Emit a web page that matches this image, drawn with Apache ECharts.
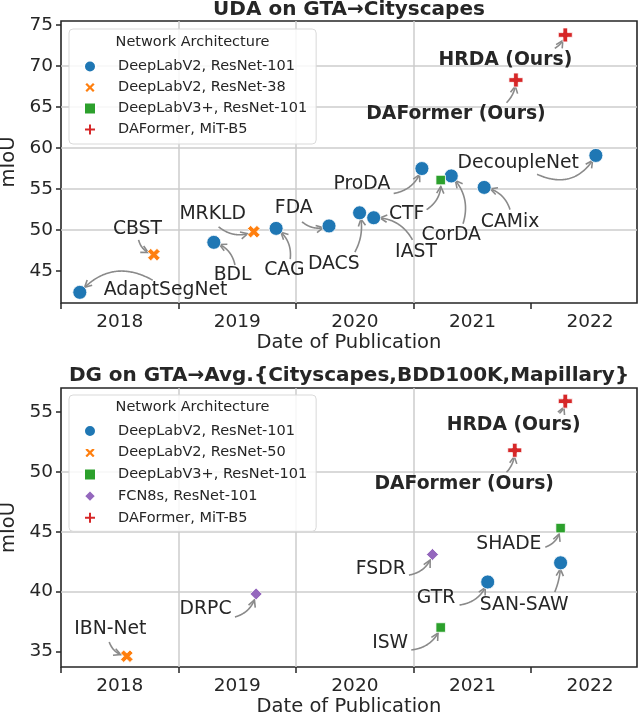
<!DOCTYPE html>
<html>
<head>
<meta charset="utf-8">
<script src="https://cdn.jsdelivr.net/npm/echarts@6/dist/echarts.min.js"></script>
<style>
  html, body { margin: 0; padding: 0; background: #fff; }
  #chart { width: 640px; height: 718px; }
</style>
</head>
<body>
<div id="chart"></div>
<script>
// ---- architectures, in legend order ----
const udaArchs = ['DeepLabV2, ResNet-101', 'DeepLabV2, ResNet-38', 'DeepLabV3+, ResNet-101', 'DAFormer, MiT-B5'];
const dgArchs = ['DeepLabV2, ResNet-101', 'DeepLabV2, ResNet-50', 'DeepLabV3+, ResNet-101', 'FCN8s, ResNet-101', 'DAFormer, MiT-B5'];

// ---- UDA on GTA->Cityscapes ----
const udaNames = ['AdaptSegNet', 'CBST', 'BDL', 'MRKLD', 'CAG', 'FDA', 'DACS', 'IAST', 'CTF', 'ProDA', 'CorDA', 'CAMix', 'DecoupleNet', 'DAFormer (Ours)', 'HRDA (Ours)'];
const udaArchIdx = [0, 1, 0, 1, 0, 0, 0, 0, 2, 0, 0, 0, 0, 3, 3];
const udaDates = [2018.16, 2018.79, 2019.30, 2019.64, 2019.83, 2020.28, 2020.54, 2020.66, 2021.23, 2021.07, 2021.32, 2021.60, 2022.55, 2021.87, 2022.29];
const udaMiou = [42.4, 47.0, 48.5, 49.8, 50.2, 50.5, 52.1, 51.5, 56.1, 57.5, 56.6, 55.2, 59.1, 68.3, 73.8];

// ---- DG on GTA->Avg.{Cityscapes,BDD100K,Mapillary} ----
const dgNames = ['IBN-Net', 'DRPC', 'FSDR', 'ISW', 'GTR', 'SAN-SAW', 'SHADE', 'DAFormer (Ours)', 'HRDA (Ours)'];
const dgArchIdx = [1, 3, 3, 2, 0, 0, 2, 4, 4];
const dgDates = [2018.56, 2019.66, 2021.16, 2021.23, 2021.63, 2022.25, 2022.25, 2021.86, 2022.29];
const dgMiou = [34.6, 39.8, 43.1, 37.0, 40.8, 42.4, 45.3, 51.8, 55.9];

// ---- ticks ----
const yearTicks = [2018, 2019, 2020, 2021, 2022];
const yearLabelPos = [2018.5, 2019.5, 2020.5, 2021.5, 2022.5];
const udaYTicks = [45, 50, 55, 60, 65, 70, 75];
const dgYTicks = [35, 40, 45, 50, 55];

// ---- annotation layout (data coords): text centre, arrow start, arc rad ----
const udaTextPos = [[2018.89, 42.65], [2018.65, 50.15], [2019.46, 44.5], [2019.29, 52.0], [2019.90, 45.1], [2019.98, 52.7], [2020.32, 45.85], [2021.02, 47.3], [2020.94, 52.0], [2020.56, 55.6], [2021.32, 49.4], [2021.82, 51.0], [2021.89, 58.15], [2021.36, 64.2], [2021.78, 70.7]];
const udaArrowFrom = [[2018.78, 43.88], [2018.66, 48.8], [2019.48, 45.73], [2019.34, 50.4], [2019.95, 46.46], [2020.05, 51.01], [2020.50, 47.32], [2020.99, 48.8], [2021.11, 52.49], [2020.83, 54.46], [2021.42, 50.77], [2021.82, 52.49], [2022.05, 56.8], [2021.79, 65.53], [2022.20, 72.17]];
const udaRad = [0.4, 0.3, 0.3, 0.3, 0.3, 0.3, 0.2, 0.3, 0.3, 0.3, 0.3, 0.3, 0.45, 0.2, 0.2];

const dgTextPos = [[2018.42, 36.875], [2019.23, 38.54], [2020.72, 41.875], [2020.80, 35.71], [2021.19, 39.46], [2021.94, 38.875], [2021.81, 43.96], [2021.43, 49.0], [2021.85, 53.9]];
const dgArrowFrom = [[2018.41, 35.79], [2019.48, 37.875], [2020.96, 41.375], [2020.98, 35.125], [2021.39, 38.875], [2022.20, 39.96], [2022.12, 43.71], [2021.79, 49.96], [2022.24, 54.88]];
const dgRad = [0.3, 0.3, 0.3, 0.3, 0.3, 0.1, 0.3, 0.2, 0.2];

const FONT = 'DejaVu Sans';
const INK = '#262626';
const X_PATH = 'path://M-2,4L0,2L2,4L4,2L2,0L4,-2L2,-4L0,-2L-2,-4L-4,-2L-2,0L-4,2Z';
const P_PATH = 'path://M1,0H2V1H3V2H2V3H1V2H0V1H1Z';
const archStyle = {
  'DeepLabV2, ResNet-101': { color: '#1f77b4', symbol: 'circle', size: 14 },
  'DeepLabV2, ResNet-38': { color: '#ff7f0e', symbol: X_PATH, size: 12.5 },
  'DeepLabV2, ResNet-50': { color: '#ff7f0e', symbol: X_PATH, size: 12.5 },
  'DeepLabV3+, ResNet-101': { color: '#2ca02c', symbol: 'rect', size: 9.5 },
  'FCN8s, ResNet-101': { color: '#9467bd', symbol: 'diamond', size: 12 },
  'DAFormer, MiT-B5': { color: '#d62728', symbol: P_PATH, size: 14 }
};

function scatterSeries(gi, archs, archIdx, dates, miou) {
  return archs.map(function (a, k) {
    const st = archStyle[a];
    const pts = [];
    dates.forEach(function (d, i) { if (archIdx[i] === k) pts.push([d, miou[i]]); });
    return {
      type: 'scatter', name: a, xAxisIndex: gi, yAxisIndex: gi, data: pts,
      symbol: st.symbol, symbolSize: st.size, z: 3, silent: true,
      itemStyle: { color: st.color, borderColor: '#fff', borderWidth: 0.8, opacity: 1 }
    };
  });
}

// curved grey arrow from label to point, plus the label text
function annotationSeries(gi, names, dates, miou, textPos, from, rad) {
  const rows = names.map(function (n, i) {
    return [dates[i], miou[i], from[i][0], from[i][1], textPos[i][0], textPos[i][1], rad[i]];
  });
  return {
    type: 'custom', xAxisIndex: gi, yAxisIndex: gi, data: rows, silent: true, z: 2, clip: false,
    encode: { x: 0, y: 1 },
    renderItem: function (params, api) {
      const p1 = api.coord([api.value(0), api.value(1)]);
      const p0 = api.coord([api.value(2), api.value(3)]);
      const tp = api.coord([api.value(4), api.value(5)]);
      const f = api.value(6);
      const dx = p1[0] - p0[0], dy = p1[1] - p0[1];
      const c = [(p0[0] + p1[0]) / 2 - f * dy, (p0[1] + p1[1]) / 2 + f * dx];
      const pts = [];
      let tEnd = 0;
      for (let k = 0; k <= 80; k++) {
        const t = k / 80, u = 1 - t;
        const x = u * u * p0[0] + 2 * u * t * c[0] + t * t * p1[0];
        const y = u * u * p0[1] + 2 * u * t * c[1] + t * t * p1[1];
        if (Math.hypot(x - p1[0], y - p1[1]) < 6) break;
        pts.push([x, y]);
        tEnd = t;
      }
      const tip = pts[pts.length - 1];
      const u = 1 - tEnd;
      let vx = 2 * u * (c[0] - p0[0]) + 2 * tEnd * (p1[0] - c[0]);
      let vy = 2 * u * (c[1] - p0[1]) + 2 * tEnd * (p1[1] - c[1]);
      const len = Math.hypot(vx, vy) || 1;
      vx /= len; vy /= len;
      const hl = 7, hw = 3.6;
      const head = [
        [tip[0] - hl * vx + hw * vy, tip[1] - hl * vy - hw * vx],
        tip,
        [tip[0] - hl * vx - hw * vy, tip[1] - hl * vy + hw * vx]
      ];
      const name = names[params.dataIndex];
      const bold = name.indexOf('(Ours)') >= 0;
      const arrowStyle = { stroke: '#8a8a8a', lineWidth: 1.6, fill: null };
      return {
        type: 'group',
        children: [
          { type: 'polyline', shape: { points: pts }, style: arrowStyle },
          { type: 'polyline', shape: { points: head }, style: arrowStyle },
          {
            type: 'text', x: tp[0], y: tp[1],
            style: {
              text: name, fill: INK, fontSize: 18.8, fontFamily: FONT,
              fontWeight: bold ? 'bold' : 'normal', align: 'center', verticalAlign: 'middle'
            }
          }
        ]
      };
    }
  };
}

function xAxis(gi) {
  return {
    gridIndex: gi, type: 'value', min: 2018, max: 2022.9,
    axisLine: { show: false },
    axisTick: { show: true, length: 6, customValues: yearTicks, lineStyle: { color: INK, width: 1.5 } },
    axisLabel: {
      customValues: yearLabelPos, formatter: function (v) { return String(Math.floor(v)); },
      color: INK, fontSize: 18.5, fontFamily: FONT, margin: 10
    },
    splitLine: { show: true, showMinLine: false, showMaxLine: false, lineStyle: { color: '#cccccc', width: 1.5 } },
    name: 'Date of Publication', nameLocation: 'middle', nameGap: 30,
    nameTextStyle: { color: INK, fontSize: 19.5, fontFamily: FONT }
  };
}

function yAxis(gi, min, max, ticks) {
  return {
    gridIndex: gi, type: 'value', min: min, max: max,
    axisLine: { show: false },
    axisTick: { show: true, length: 5, customValues: ticks, lineStyle: { color: INK, width: 1.5 } },
    axisLabel: { customValues: ticks, color: INK, fontSize: 18.5, fontFamily: FONT, margin: 8 },
    splitLine: { show: true, showMinLine: false, showMaxLine: false, lineStyle: { color: '#cccccc', width: 1.5 } },
    name: 'mIoU', nameLocation: 'middle', nameGap: 36,
    nameTextStyle: { color: INK, fontSize: 19.5, fontFamily: FONT }
  };
}

function legend(names, top, padding, gap) {
  return {
    data: names, orient: 'vertical', left: 69, top: top, padding: padding,
    itemWidth: 12, itemHeight: 12, itemGap: gap, selectedMode: false,
    backgroundColor: 'rgba(255,255,255,0.85)', borderColor: '#d9d9d9', borderWidth: 1, borderRadius: 4,
    textStyle: { color: INK, fontSize: 14.5, fontFamily: FONT, padding: [0, 0, 0, 17] }
  };
}

const gridBase = { show: true, left: 61, width: 576, borderColor: INK, borderWidth: 1.6, backgroundColor: 'transparent', containLabel: false, outerBoundsMode: 'none' };

const chart = echarts.init(document.getElementById('chart'), null, { renderer: 'canvas', width: 640, height: 718 });
chart.setOption({
  animation: false,
  textStyle: { fontFamily: FONT },
  title: [
    { text: 'UDA on GTA\u2192Cityscapes', left: 349, top: 0, textAlign: 'center', padding: 0,
      textStyle: { color: INK, fontSize: 20, fontWeight: 'bold', fontFamily: FONT } },
    { text: 'DG on GTA\u2192Avg.{Cityscapes,BDD100K,Mapillary}', left: 349, top: 366, textAlign: 'center', padding: 0,
      textStyle: { color: INK, fontSize: 20, fontWeight: 'bold', fontFamily: FONT } },
    { text: 'Network Architecture', left: 192.5, top: 35, textAlign: 'center', padding: 0, z: 5,
      textStyle: { color: INK, fontSize: 14.5, fontWeight: 'normal', fontFamily: FONT } },
    { text: 'Network Architecture', left: 192.5, top: 400, textAlign: 'center', padding: 0, z: 5,
      textStyle: { color: INK, fontSize: 14.5, fontWeight: 'normal', fontFamily: FONT } }
  ],
  grid: [
    Object.assign({ top: 21, height: 282 }, gridBase),
    Object.assign({ top: 388, height: 279 }, gridBase)
  ],
  xAxis: [xAxis(0), xAxis(1)],
  yAxis: [yAxis(0, 41.1, 75.5, udaYTicks), yAxis(1, 33.7, 57, dgYTicks)],
  legend: [
    legend(udaArchs, 29, [30, 9, 7, 14], 6),
    legend(dgArchs, 395, [28.5, 9, 6, 14], 6.7)
  ],
  series: []
    .concat(annotationSeries(0, udaNames, udaDates, udaMiou, udaTextPos, udaArrowFrom, udaRad))
    .concat(scatterSeries(0, udaArchs, udaArchIdx, udaDates, udaMiou))
    .concat(annotationSeries(1, dgNames, dgDates, dgMiou, dgTextPos, dgArrowFrom, dgRad))
    .concat(scatterSeries(1, dgArchs, dgArchIdx, dgDates, dgMiou))
});
</script>
</body>
</html>
